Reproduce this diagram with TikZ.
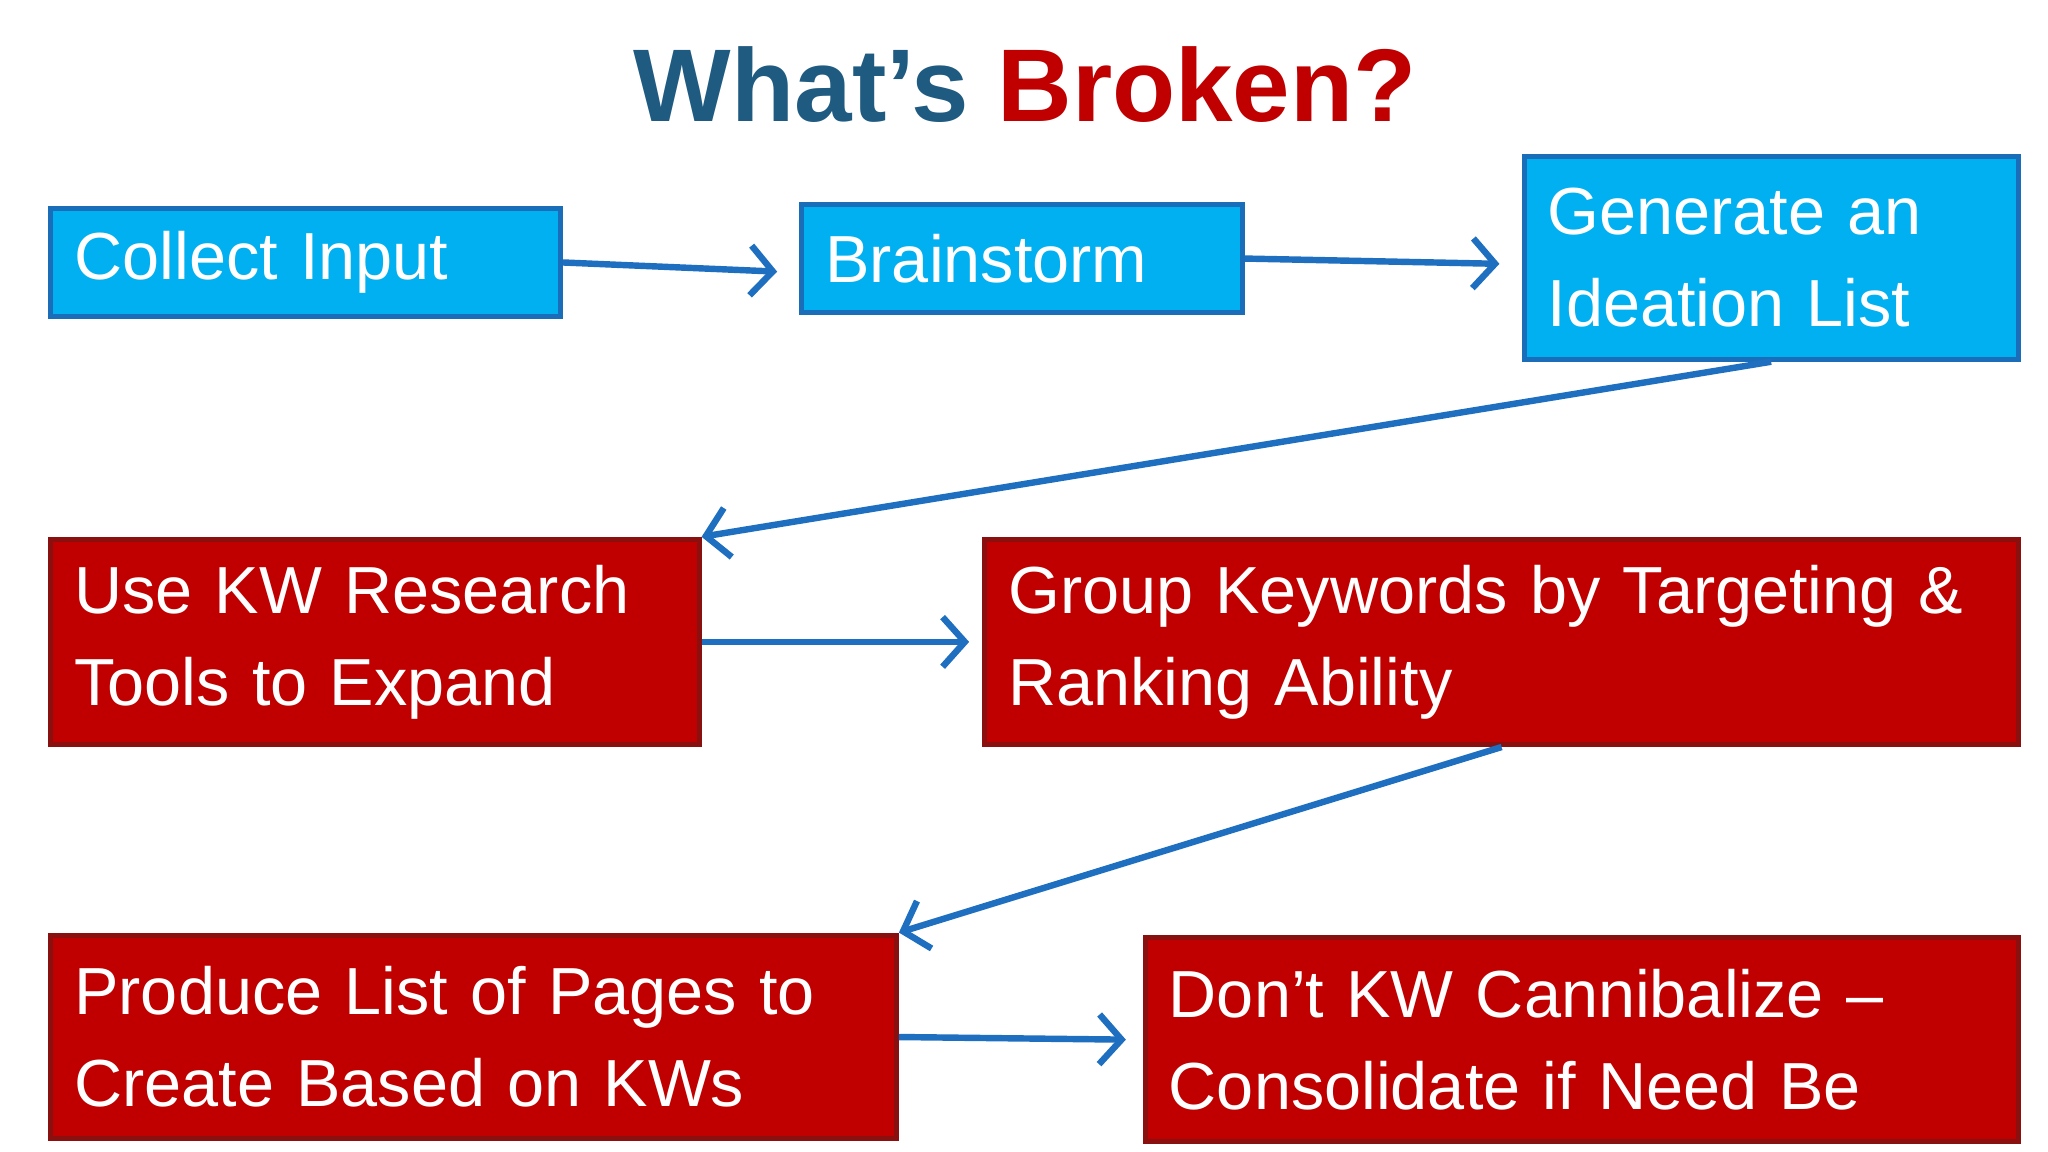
\documentclass[tikz,border=0pt]{standalone}
\usepackage{fontspec}
\setmainfont{Liberation Sans}
\usetikzlibrary{arrows.meta,positioning}
\definecolor{cyanfill}{HTML}{00B0F0}
\definecolor{cyanedge}{HTML}{1A6DB8}
\definecolor{redfill}{HTML}{C00000}
\definecolor{rededge}{HTML}{8A1010}
\definecolor{arrowblue}{HTML}{1F6FC0}
\definecolor{titleblue}{HTML}{1F5A80}
\definecolor{titlered}{HTML}{C00000}
\begin{document}
\begin{tikzpicture}[
  x=0.01cm, y=-0.01cm,
  stage/.style={anchor=north west, align=left, text=white, inner sep=0pt,
               font=\fontsize{14.5}{20}\selectfont, line width=1.1pt},
  bluebox/.style={stage, draw=cyanedge, fill=cyanfill},
  redbox/.style={stage, draw=rededge, fill=redfill},
  flow/.style={draw=arrowblue, line width=1.4pt,
               -{Straight Barb[length=1.7mm,width=3.8mm,line width=1.4pt]}}
]
\useasboundingbox (0,0) rectangle (1568,882);

\node[font=\fontsize{22.5}{27}\selectfont\bfseries] (title) at (785,65)
  {\textcolor{titleblue}{What’s} \textcolor{titlered}{Broken?}};

% first row
\node[bluebox, minimum width=3.90cm, minimum height=0.82cm, text width=3.54cm] (collect) at (37,158) {Collect Input};
\node[bluebox, minimum width=3.37cm, minimum height=0.82cm, text width=3.01cm] (brain) at (612,155) {Brainstorm};
\node[bluebox, minimum width=3.78cm, minimum height=1.55cm, text width=3.42cm] (ideation) at (1165,118) {Generate an\\Ideation List};

% second row
\node[redbox, minimum width=4.96cm, minimum height=1.57cm, text width=4.60cm] (expand) at (37,411) {Use KW Research\\Tools to Expand};
\node[redbox, minimum width=7.91cm, minimum height=1.57cm, text width=7.55cm] (group) at (752,411) {Group Keywords by Targeting \&\\Ranking Ability};

% third row
\node[redbox, minimum width=6.47cm, minimum height=1.56cm, text width=6.11cm] (pages) at (37,714) {Produce List of Pages to\\Create Based on KWs};
\node[redbox, minimum width=6.68cm, minimum height=1.56cm, text width=6.32cm] (consolidate) at (875,716) {Don’t KW Cannibalize –\\Consolidate if Need Be};

\draw[flow] (collect.east) -- ([xshift=-0.17cm,yshift=-0.1cm]brain.west);
\draw[flow] (brain.east) -- ([xshift=-0.17cm]ideation.west |- 0,202);
\draw[flow] (ideation.south) -- (expand.north east);
\draw[flow] (expand.east) -- ([xshift=-0.1cm]group.west);
\draw[flow] (group.south) -- (pages.north east);
\draw[flow] (pages.east) -- ([xshift=-0.13cm]consolidate.west);
\end{tikzpicture}
\end{document}
